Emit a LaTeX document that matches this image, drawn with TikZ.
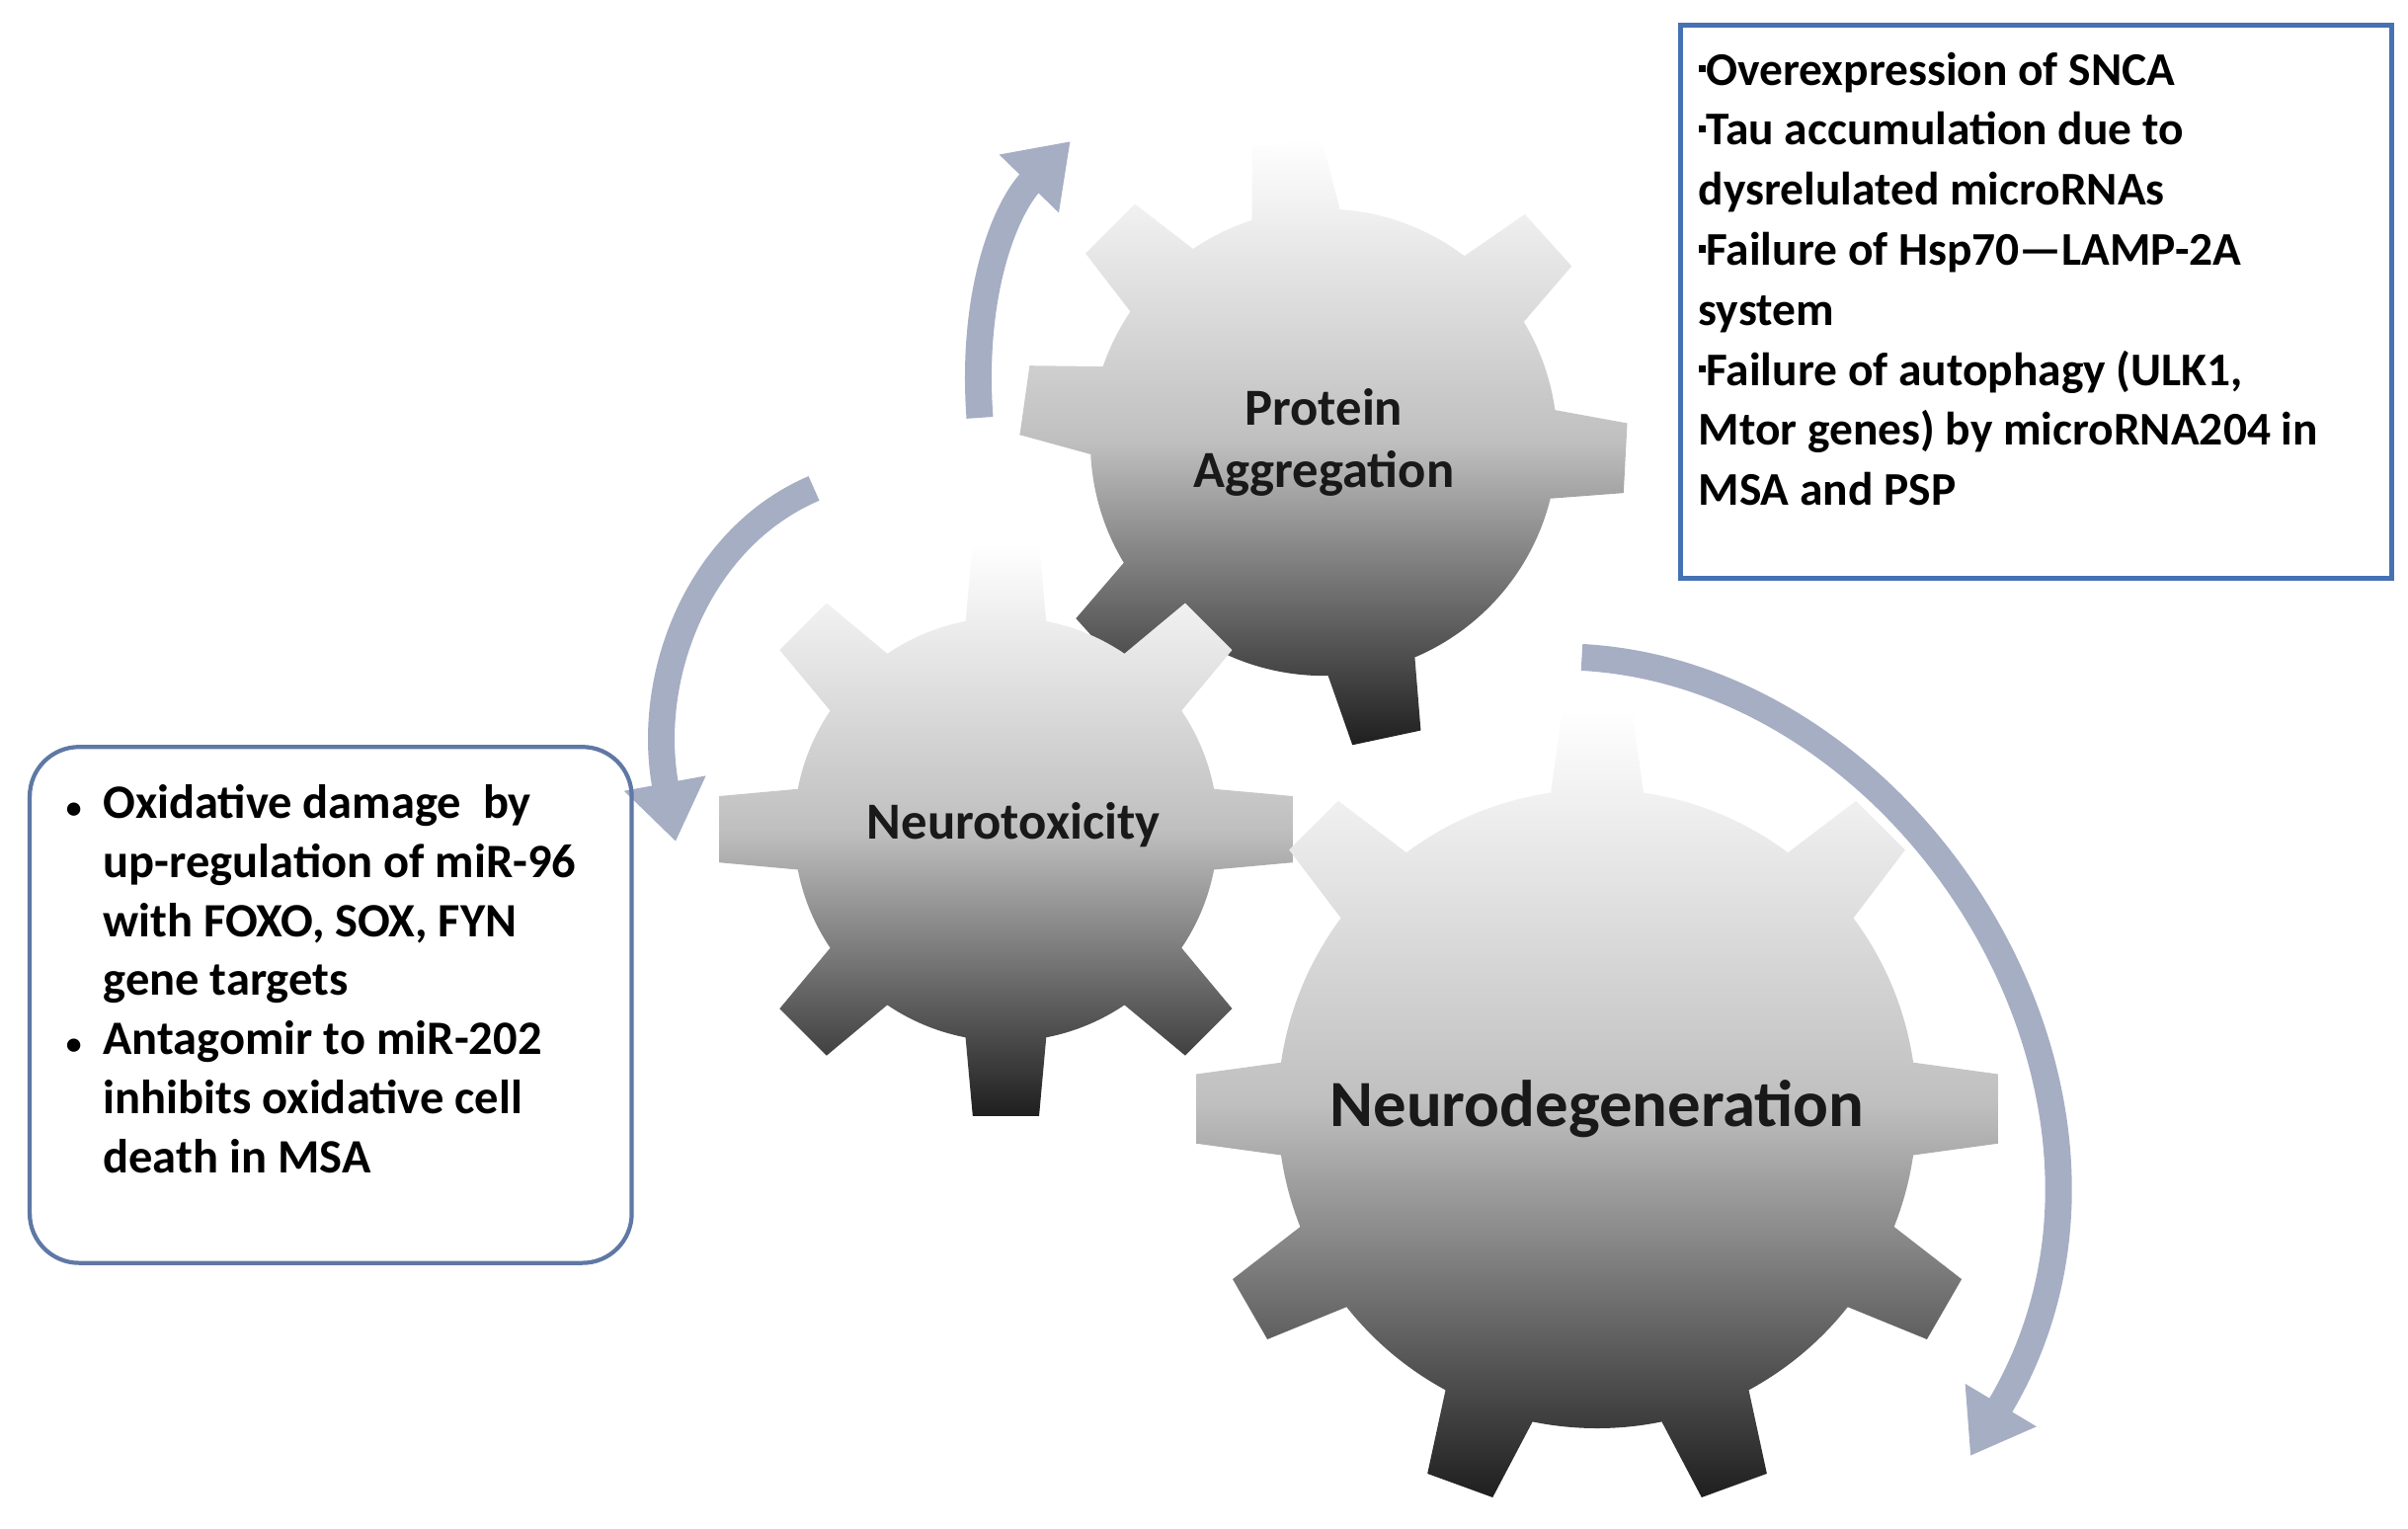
\documentclass[tikz,border=0pt]{standalone}
\usepackage{fontspec}
\setmainfont{Carlito}
\usetikzlibrary{arrows.meta,calc}
\definecolor{arr}{RGB}{166,174,196}
\definecolor{boxblue}{RGB}{70,114,180}
\definecolor{lbox}{RGB}{95,120,165}
\tikzset{
  gearshade/.style={top color=white, bottom color=black!88, middle color=gray!50, draw=none},
  cyc/.style={draw=arr, line width=0.27cm, -{Triangle[length=0.6cm,width=0.8cm]}},
  lbl/.style={text=black!90, align=center},
  boxtxt/.style={font=\fontsize{13.5}{17.3}\selectfont\bfseries, align=left, anchor=north west}
}
\newcommand{\sqb}{\raisebox{0.55ex}{\rule{2.2pt}{2.2pt}}}
\newcommand{\mygear}[5]{%
  \shade[gearshade] (#1) circle[radius=#2]
  \foreach \a in {#4} {
    ($(#1)+({-(\a+#5)}:#2-8)$) -- ($(#1)+({-(\a+#5*0.55)}:#3)$) -- ($(#1)+({-(\a-#5*0.55)}:#3)$) -- ($(#1)+({-(\a-#5)}:#2-8)$) -- cycle
  };}
\begin{document}
\begin{tikzpicture}[x=0.01555cm,y=-0.01555cm]
\useasboundingbox (0,0) rectangle (1568,995);
\coordinate (cPA) at (862,288);
\coordinate (cNT) at (655,540);
\coordinate (cND) at (1040,722);
\mygear{cPA}{152}{198}{-3,42,97,135,172,222,-78}{12}
\mygear{cNT}{138}{188}{0,45,90,135,180,225,270,315}{12}
\mygear{cND}{208}{262}{90,45,135,0,180,-30,-150,-70,-110}{9}
\node[lbl, font=\fontsize{15}{18}\selectfont\bfseries] (pa) at (cPA) {Protein\\Aggregation};
\node[lbl, font=\fontsize{15}{17}\selectfont\bfseries] (nt) at ($(cNT)+(5,-3)$) {Neurotoxicity};
\node[lbl, font=\fontsize{19}{22}\selectfont\bfseries] (nd) at (cND) {Neurodegeneration};
\coordinate (a1s) at (638,272);
\coordinate (a1e) at (697,92);
\coordinate (a2s) at (530,318);
\coordinate (a2e) at (440,548);
\coordinate (a3s) at (1030,428);
\coordinate (a3e) at (1283,948);
\draw[cyc] (a1s) .. controls (632,190) and (655,135) .. (a1e);
\draw[cyc] (a2s) .. controls (455,350) and (420,440) .. (a2e);
\draw[cyc] (a3s) .. controls (1250,440) and (1420,720) .. (a3e);
\node[draw=boxblue, line width=1.4pt, minimum width=463*0.01555cm, minimum height=360*0.01555cm, anchor=north west] (rb) at (1093,15) {};
\node[boxtxt] (rbt) at (1098,26) {%
\sqb Overexpression of SNCA\\
\sqb Tau accumulation due to\\
dysrelulated microRNAs\\
\sqb Failure of Hsp70---LAMP-2A\\
system\\
\sqb Failure of autophagy (ULK1,\\
Mtor genes) by microRNA204 in\\
MSA and PSP};
\node[draw=lbox, line width=1.2pt, rounded corners=0.5cm, minimum width=392*0.01555cm, minimum height=336*0.01555cm, anchor=north west] (lb) at (18,485) {};
\node[boxtxt, font=\fontsize{13.8}{17}\selectfont\bfseries] (lbt) at (35,503) {%
{\small\textbullet}\ \ Oxidative damage\ \ by\\
\phantom{{\small\textbullet}}\ \ up-regulation of miR-96\\
\phantom{{\small\textbullet}}\ \ with FOXO, SOX, FYN\\
\phantom{{\small\textbullet}}\ \ gene targets\\
{\small\textbullet}\ \ Antagomir to miR-202\\
\phantom{{\small\textbullet}}\ \ inhibits oxidative cell\\
\phantom{{\small\textbullet}}\ \ death in MSA};
\end{tikzpicture}
\end{document}
